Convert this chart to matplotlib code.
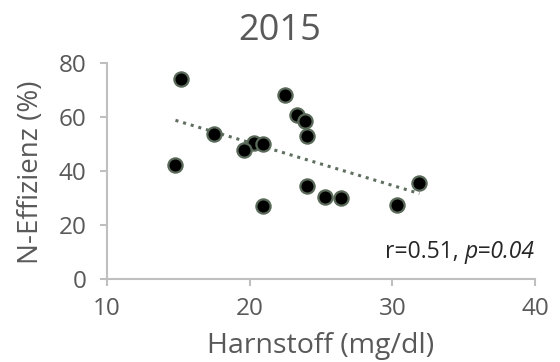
import numpy as np
import matplotlib
matplotlib.use('Agg')
import matplotlib.pyplot as plt

# Harnstoff (mg/dl) vs N-Effizienz (%), 2015
harnstoff = [15.2, 22.5, 23.3, 23.9, 24.0, 17.5, 20.3, 20.9, 19.6, 14.8,
             24.0, 25.3, 26.4, 30.3, 20.9, 31.9]
n_effizienz = [74.2, 68.1, 60.9, 58.5, 52.9, 53.6, 50.3, 50.1, 47.6, 42.4,
               34.5, 30.5, 30.1, 27.5, 26.9, 35.6]
x_ticks = [10, 20, 30, 40]
y_ticks = [0, 20, 40, 60, 80]

plt.rcParams['font.family'] = ['Open Sans', 'DejaVu Sans']

text_col = '#595959'
axis_col = '#bfbfbf'
W, H = 560, 362

fig = plt.figure(figsize=(5.6, 3.62), dpi=100)
ax = fig.add_axes([107 / W, 1 - 279 / H, 428 / W, 216 / H])

ax.scatter(harnstoff, n_effizienz, s=105, c='black', edgecolors='#5a6a5a',
           linewidths=1.6, zorder=3, clip_on=False)

# linear trendline over the data range
k, d = np.polyfit(harnstoff, n_effizienz, 1)
xs = np.array([min(harnstoff), max(harnstoff)])
ax.plot(xs, k * xs + d, color='#5f6f5f', lw=2.2, linestyle=(0, (1, 1.6)),
        zorder=2)

ax.set_xlim(10, 40)
ax.set_ylim(0, 80)
ax.set_xticks(x_ticks)
ax.set_yticks(y_ticks)

for side in ['top', 'right']:
    ax.spines[side].set_visible(False)
for side in ['left', 'bottom']:
    ax.spines[side].set_color(axis_col)
    ax.spines[side].set_linewidth(1.5)
ax.tick_params(colors=axis_col, width=1.5, length=5, labelcolor=text_col,
               labelsize=17.5)
ax.tick_params(axis='x', pad=8)
ax.tick_params(axis='y', pad=10)

# title is centred on the whole chart, labels on the plot area
fig.text(0.5, 1 - 40 / H, '2015', fontsize=26, color=text_col,
         ha='center', va='baseline')
fig.text(321 / W, 1 - 353 / H, 'Harnstoff (mg/dl)', fontsize=20.5,
         color=text_col, ha='center', va='baseline')
fig.text(38 / W, 1 - 172 / H, 'N-Effizienz (%)', fontsize=20,
         color=text_col, ha='center', va='baseline', rotation=90,
         rotation_mode='anchor')

# r / p annotation, p part in italics
p_txt = ax.text(1.0, 21 / 216, 'p=0.04', transform=ax.transAxes,
                ha='right', va='baseline', fontsize=16.5, style='italic',
                color='#262626')
fig.canvas.draw()
bb = p_txt.get_window_extent()
x_left = ax.transAxes.inverted().transform((bb.x0, bb.y0))[0]
ax.text(x_left, 21 / 216, 'r=0.51, ', transform=ax.transAxes,
        ha='right', va='baseline', fontsize=16.5, color='#262626')

fig.savefig('out.png', dpi=100)
